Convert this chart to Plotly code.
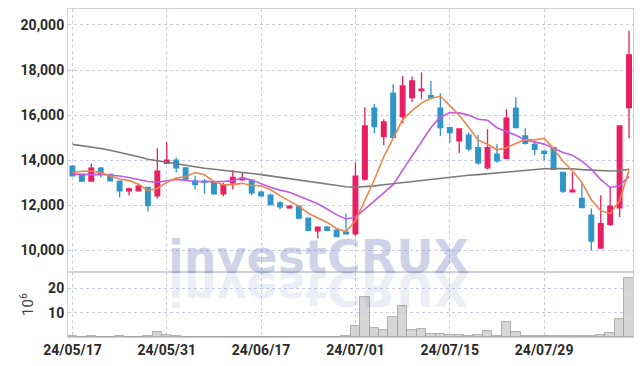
import plotly.graph_objects as go

dates = ["24/05/17", "24/05/20", "24/05/21", "24/05/22", "24/05/23", "24/05/24", "24/05/27", "24/05/28", "24/05/29", "24/05/30",
         "24/05/31", "24/06/03", "24/06/04", "24/06/05", "24/06/07", "24/06/10", "24/06/11", "24/06/12", "24/06/13", "24/06/14",
         "24/06/17", "24/06/18", "24/06/19", "24/06/20", "24/06/21", "24/06/24", "24/06/25", "24/06/26", "24/06/27", "24/06/28",
         "24/07/01", "24/07/02", "24/07/03", "24/07/04", "24/07/05", "24/07/08", "24/07/09", "24/07/10", "24/07/11", "24/07/12",
         "24/07/15", "24/07/16", "24/07/17", "24/07/18", "24/07/19", "24/07/22", "24/07/23", "24/07/24", "24/07/25", "24/07/26",
         "24/07/29", "24/07/30", "24/07/31", "24/08/01", "24/08/02", "24/08/05", "24/08/06", "24/08/07", "24/08/08", "24/08/09"]

open_ = [13737, 13368, 13070, 13648, 13368, 13070, 12638, 12638, 12790, 12416,
         13857, 14004, 13662, 13083, 13070, 13039, 12505, 12994, 13128, 13114,
         12581, 12447, 12104, 11882, 11958, 11424, 10859, 11023, 10890, 10801,
         10725, 13159, 16304, 15041, 16972, 15930, 16776, 17087, 16865, 16304,
         15441, 14863, 15116, 14552, 13662, 14271, 14080, 16304, 15072, 14703,
         14405, 14552, 13457, 12594, 12300, 11557, 10102, 11157, 11882, 16331]
high = [13782, 13400, 13857, 13693, 13400, 13100, 12790, 12967, 12816, 14525,
        14792, 14124, 13680, 13306, 13160, 13060, 12994, 13559, 13439, 13150,
        12640, 12520, 12193, 12000, 12000, 11424, 11023, 11080, 10950, 11633,
        13902, 16349, 16496, 15815, 17372, 17741, 17700, 17906, 17519, 16972,
        15460, 15400, 15230, 15116, 15370, 14703, 16260, 16794, 15414, 14800,
        14405, 14600, 13470, 13457, 13012, 11855, 12447, 12816, 15517, 19743]
low = [13292, 13040, 13039, 13234, 13060, 12345, 12434, 12620, 11722, 12300,
       13857, 13457, 13159, 12700, 12523, 12480, 12402, 12700, 13083, 12447,
       12380, 12033, 11811, 11840, 11424, 10890, 10520, 10850, 10623, 10700,
       10623, 13090, 15192, 14658, 15014, 15637, 16585, 16705, 16700, 15072,
       14774, 14302, 14400, 13800, 13590, 13900, 14080, 15441, 14700, 14227,
       14004, 13590, 12540, 12594, 11900, 10000, 10102, 11081, 11482, 14970]
close = [13306, 13070, 13648, 13368, 13083, 12638, 12727, 12847, 11989, 13515,
         14004, 13662, 13159, 12923, 13012, 12505, 12905, 13234, 13203, 12549,
         12416, 12033, 11926, 11958, 11424, 10890, 11023, 10890, 10623, 10725,
         13292, 15517, 15486, 15695, 15014, 17296, 17519, 17150, 16776, 15441,
         15219, 15383, 14507, 13884, 14552, 13973, 15860, 15441, 14747, 14480,
         14302, 13590, 12625, 12669, 11900, 10414, 11188, 11958, 15517, 18676]

ma5 = [13460, 13510, 13520, 13450, 13295, 13161, 13093, 12933, 12657, 12743,
       13016, 13203, 13266, 13453, 13352, 13052, 12901, 12916, 12972, 12879,
       12861, 12687, 12425, 12176, 11951, 11646, 11444, 11237, 10970, 10830,
       11311, 12209, 13129, 14143, 15001, 15802, 16202, 16535, 16751, 16836,
       16421, 15994, 15465, 14887, 14709, 14460, 14555, 14742, 14915, 14900,
       14966, 14512, 13949, 13533, 13017, 12240, 11759, 11626, 12195, 13551]
ma10 = [13380, 13360, 13360, 13370, 13340, 13300, 13230, 13130, 13050, 13019,
        13089, 13148, 13099, 13055, 13048, 13034, 13052, 13091, 13212, 13116,
        12957, 12794, 12671, 12574, 12415, 12254, 12066, 11831, 11573, 11391,
        11478, 11827, 12183, 12557, 12916, 13556, 14206, 14832, 15447, 15919,
        16111, 16098, 16000, 15819, 15773, 15440, 15275, 15104, 14901, 14805,
        14713, 14534, 14345, 14224, 13959, 13603, 13136, 12787, 12864, 13284]
ma_long = [14700, 14650, 14590, 14520, 14440, 14350, 14250, 14150, 14040, 13970,
           13900, 13830, 13760, 13700, 13640, 13600, 13560, 13510, 13460, 13410,
           13360, 13300, 13250, 13190, 13130, 13060, 13000, 12930, 12870, 12820,
           12800, 12820, 12860, 12910, 12960, 13010, 13060, 13110, 13160, 13210,
           13260, 13300, 13330, 13360, 13400, 13440, 13480, 13530, 13570, 13600,
           13620, 13630, 13640, 13620, 13580, 13550, 13520, 13520, 13530, 13600]

volume = [0.2, 0.1, 0.3, 0.1, 0.1, 0.2, 0.1, 0.1, 0.2, 2.2,
          0.8, 0.2, 0.1, 0.1, 0.1, 0.1, 0.1, 0.1, 0.1, 0.1,
          0.1, 0.1, 0.1, 0.1, 0.1, 0.1, 0.1, 0.1, 0.1, 0.2,
          4.5, 16.5, 3.8, 2.9, 8.1, 12.8, 2.9, 3.3, 1.2, 1.2,
          0.7, 0.7, 0.3, 0.8, 2.5, 0.4, 6.2, 2.1, 0.3, 0.3,
          0.3, 0.3, 0.3, 0.3, 0.3, 0.4, 0.7, 1.5, 7.4, 24.1]

tick_dates = ["24/05/17", "24/05/31", "24/06/17", "24/07/01", "24/07/15", "24/07/29"]
price_ticks = [10000, 12000, 14000, 16000, 18000, 20000]
vol_ticks = [10, 20]

UP = "#E91E63"
DOWN = "#2F96C9"
GRID = "#c9cbe0"
AXIS = "#cfd0d8"
FONT = "Roboto, sans-serif"
TICKFONT = dict(family=FONT, size=14, color="#2a2a2a", weight="bold")

fig = go.Figure()

fig.add_trace(go.Bar(
    x=dates, y=volume, xaxis="x2", yaxis="y2",
    marker=dict(color="rgba(200,200,200,0.75)", line=dict(color="rgba(160,160,160,0.8)", width=1)),
    width=1.0, showlegend=False, hoverinfo="skip"))

fig.add_trace(go.Candlestick(
    x=dates, open=open_, high=high, low=low, close=close,
    xaxis="x", yaxis="y",
    increasing=dict(fillcolor=UP, line=dict(color=UP, width=1.3)),
    decreasing=dict(fillcolor=DOWN, line=dict(color=DOWN, width=1.3)),
    showlegend=False))

fig.add_trace(go.Scatter(x=dates, y=ma_long, mode="lines", line=dict(color="#7a7a7a", width=1.6),
                         xaxis="x", yaxis="y", showlegend=False))
fig.add_trace(go.Scatter(x=dates, y=ma10, mode="lines", line=dict(color="#c25ae6", width=1.6),
                         xaxis="x", yaxis="y", showlegend=False))
fig.add_trace(go.Scatter(x=dates, y=ma5, mode="lines", line=dict(color="#f0854a", width=1.6),
                         xaxis="x", yaxis="y", showlegend=False))

xr = [-0.47, 59.42]
common_x = dict(type="category", range=xr, showgrid=True, gridcolor=GRID, griddash="dot", gridwidth=1,
                tickvals=tick_dates, showline=True, linecolor=AXIS, mirror=True, ticks="",
                rangeslider=dict(visible=False), fixedrange=True, automargin=False)

# page body has an 8px margin: the figure is sized so the plot lands where the reference has it
fig.update_layout(
    width=634, height=358,
    margin=dict(l=60, r=9, t=1, b=29),
    paper_bgcolor="white", plot_bgcolor="white",
    xaxis=dict(domain=[0, 1], anchor="y", showticklabels=False, **common_x),
    xaxis2=dict(domain=[0, 1], anchor="y2", matches="x", showticklabels=True,
                tickfont=TICKFONT, **common_x),
    yaxis=dict(domain=[0.198, 1], range=[9035, 20709], tickvals=price_ticks, tickformat=",d",
               showgrid=True, gridcolor=GRID, griddash="dot", zeroline=False, automargin=False,
               showline=True, linecolor=AXIS, mirror=True, ticks="", tickfont=TICKFONT),
    yaxis2=dict(domain=[0, 0.198], range=[0, 26.7], tickvals=vol_ticks,
                showgrid=True, gridcolor=GRID, griddash="dot", zeroline=False, automargin=False,
                showline=True, linecolor=AXIS, mirror=True, ticks="", tickfont=TICKFONT,
                title=dict(text="10<sup>6</sup>", font=dict(family=FONT, size=15, color="#444"), standoff=10)),
    bargap=0,
    annotations=[
        dict(text="<b>investCRUX</b>", xref="paper", yref="paper", x=0.443, y=0.245, xanchor="center", yanchor="middle",
             showarrow=False, font=dict(family="DejaVu Sans, Liberation Sans", size=46, color="rgba(60,80,160,0.25)")),
        dict(text="<b>investCRUX</b>", xref="paper", yref="paper", x=0.443, y=0.145, xanchor="center", yanchor="middle",
             showarrow=False, font=dict(family="DejaVu Sans, Liberation Sans", size=46, color="rgba(60,80,160,0.11)")),
    ],
)

post = """
var gd = document.getElementById('{plot_id}');
function flipWm(){
  var g = gd.querySelector('.annotation[data-index="1"] .annotation-text-g');
  if(g){ g.style.transformBox='fill-box'; g.style.transformOrigin='center'; g.style.transform='scaleY(-1)'; }
}
flipWm();
if (gd.on) { gd.on('plotly_afterplot', flipWm); }
"""

fig.write_html("out.html", post_script=post)
